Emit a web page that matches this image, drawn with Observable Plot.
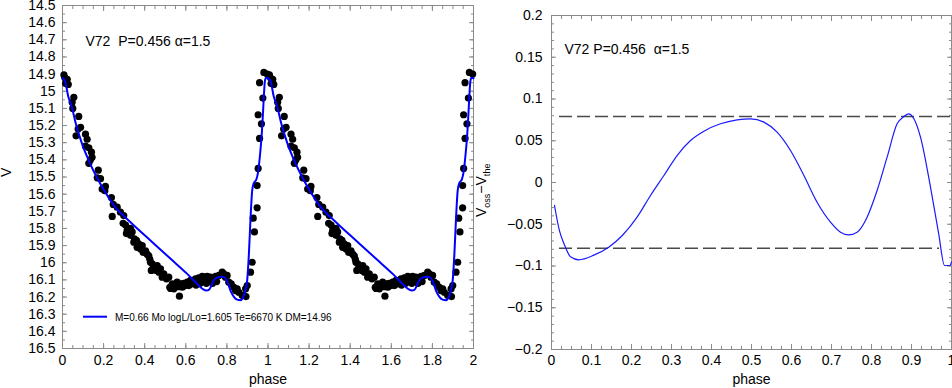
<!DOCTYPE html>
<html><head><meta charset="utf-8">
<script src="https://cdn.jsdelivr.net/npm/d3@7"></script>
<script src="https://cdn.jsdelivr.net/npm/@observablehq/plot@0.6"></script>
<style>
body{margin:0;background:#fff;}
#wrap{position:relative;width:952px;height:388px;overflow:hidden;}
#p1,#p2{position:absolute;top:0;}
#p1{left:0}
#p2{left:470px}
</style></head><body><div id="wrap"><div id="p1"></div><div id="p2"></div></div>
<script>
// ---- Observed V light curve (one cycle, phase 0..1) ----
const obsPhase = [0.007,0.011,0.015,0.023,0.028,0.047,0.050,0.055,0.066,0.076,0.079,0.088,0.112,0.112,0.120,0.128,0.128,0.136,0.141,0.144,
0.169,0.174,0.185,0.193,0.206,0.209,0.238,0.242,0.247,0.266,0.282,0.295,0.298,0.307,0.311,0.315,0.331,0.331,0.339,0.347,
0.350,0.360,0.363,0.371,0.380,0.388,0.393,0.404,0.412,0.420,0.425,0.428,0.432,0.437,0.444,0.457,0.461,0.469,0.477,0.485,
0.493,0.506,0.517,0.522,0.526,0.534,0.542,0.550,0.558,0.566,0.569,0.578,0.583,0.590,0.598,0.607,0.615,0.623,0.631,0.639,
0.647,0.650,0.655,0.663,0.670,0.672,0.680,0.688,0.690,0.696,0.700,0.704,0.712,0.720,0.728,0.730,0.740,0.745,0.750,0.761,
0.777,0.785,0.793,0.801,0.809,0.821,0.834,0.842,0.850,0.858,0.874,0.881,0.891,0.893,0.899,0.915,0.923,0.928,0.934,0.947,
0.947,0.952,0.952,0.959,0.959,0.968,0.975,0.980,0.996];
const obsV = [14.905,14.920,14.955,14.930,14.960,15.064,15.100,15.035,15.260,15.220,15.147,15.210,15.250,15.320,15.280,15.330,15.420,15.400,15.355,15.385,
15.505,15.460,15.510,15.570,15.580,15.555,15.620,15.730,15.660,15.676,15.705,15.770,15.725,15.780,15.830,15.810,15.800,15.840,15.820,15.880,
15.860,15.870,15.910,15.890,15.920,15.900,15.940,15.930,15.950,15.960,15.980,15.997,16.045,16.006,16.026,16.045,16.016,16.055,16.035,16.084,
16.065,16.094,16.084,16.143,16.150,16.123,16.152,16.133,16.113,16.140,16.195,16.123,16.143,16.120,16.133,16.113,16.133,16.103,16.123,16.103,
16.094,16.130,16.113,16.088,16.120,16.103,16.080,16.094,16.110,16.084,16.120,16.080,16.094,16.084,16.103,16.120,16.095,16.080,16.110,16.074,
16.055,16.065,16.084,16.074,16.113,16.123,16.143,16.162,16.152,16.172,16.190,16.190,16.152,16.197,16.133,16.055,15.997,15.740,15.820,15.680,
15.550,15.450,15.137,15.275,14.950,15.190,15.040,14.890,14.900];

// ---- Model light curve (one cycle) ----
const modelPhase = [0.000,0.012,0.028,0.045,0.065,0.096,0.130,0.166,0.218,0.250,0.331,0.428,0.526,0.607,0.640,0.663,0.685,0.700,0.712,0.722,
0.735,0.749,0.777,0.793,0.805,0.820,0.835,0.850,0.865,0.878,0.890,0.899,0.907,0.915,0.923,0.931,0.943,0.952,0.962,0.968,
0.975,0.980,0.985,0.990];
const modelV = [14.924,14.940,15.030,15.090,15.190,15.310,15.410,15.500,15.608,15.665,15.764,15.870,15.977,16.065,16.105,16.133,16.155,16.162,16.158,16.140,
16.105,16.088,16.082,16.090,16.120,16.170,16.200,16.215,16.218,16.205,16.160,16.100,15.950,15.740,15.580,15.535,15.515,15.470,15.360,15.277,
15.140,15.025,14.940,14.922];

// ---- Residuals V_oss - V_the ----
const residPhase = [0.0075,0.020,0.031,0.0475,0.068,0.106,0.143,0.177,0.214,0.2475,0.281,0.314,0.3475,0.381,0.4225,0.464,0.4975,0.531,0.564,0.5975,
0.631,0.664,0.6975,0.7225,0.743,0.764,0.789,0.814,0.839,0.864,0.881,0.893,0.906,0.9225,0.9475,0.968,0.9825,0.996,1.0];
const residDV = [-0.0275,-0.058,-0.073,-0.089,-0.0926,-0.087,-0.0775,-0.0635,-0.0415,-0.0156,0.0084,0.0323,0.0503,0.0615,0.0703,0.075,0.0763,0.0723,0.0603,0.0383,
0.0084,-0.0236,-0.0475,-0.0595,-0.0627,-0.0595,-0.0415,-0.0096,0.0303,0.0703,0.079,0.0823,0.0763,0.0543,-0.0056,-0.0615,-0.0994,-0.0994,-0.095];

// dashed limits
const dashLevel = [0.079, -0.0787];
const dashFrom = [0.02, 0.02];
const dashTo = [1.0, 0.97];

// tick labels
const leftXTicks = [0,0.2,0.4,0.6,0.8,1,1.2,1.4,1.6,1.8,2];
const leftYTicks = [14.5,14.6,14.7,14.8,14.9,15,15.1,15.2,15.3,15.4,15.5,15.6,15.7,15.8,15.9,16,16.1,16.2,16.3,16.4,16.5];
const rightXTicks = [0,0.1,0.2,0.3,0.4,0.5,0.6,0.7,0.8,0.9,1];
const rightYTicks = [-0.2,-0.15,-0.1,-0.05,0,0.05,0.1,0.15,0.2];

const leftTitle = "V72\u00a0\u00a0P=0.456 \u03b1=1.5";
const rightTitle = "V72 P=0.456\u00a0\u00a0\u03b1=1.5";
const legendText = "M=0.66 Mo logL/Lo=1.605 Te=6670 K DM=14.96";

// ---- build tables ----
const obs = [];
for (const c of [0, 1]) obsPhase.forEach((p, i) => obs.push({phase: p + c, V: obsV[i]}));
const model = [];
for (const c of [0, 1, 2]) modelPhase.forEach((p, i) => { if (p + c <= 2.0001) model.push({phase: p + c, V: modelV[i]}); });
const resid = residPhase.map((p, i) => ({phase: p, dv: residDV[i]}));
const dashes = dashLevel.map((v, i) => ({y: v, x1: dashFrom[i], x2: dashTo[i]}));

const font = '"Liberation Sans", Arial, Helvetica, sans-serif';
const axisColor = "#8a8a8a";
const fmt = d => String(+d.toFixed(3)).replace("-", "\u2212");
const rng = (a, b, s) => d3.range(0, Math.round((b - a) / s) + 1).map(k => +(a + k * s).toFixed(4));

function edgeTicks(minX, majX, minY, majY) {
  const m = [];
  for (const anchor of ["bottom", "top"]) {
    m.push(Plot.axisX({anchor, ticks: minX, tickSize: -3, fill: "none", stroke: axisColor, label: null}));
    m.push(Plot.axisX({anchor, ticks: majX, tickSize: -5, fill: "none", stroke: axisColor, label: null}));
  }
  for (const anchor of ["left", "right"]) {
    m.push(Plot.axisY({anchor, ticks: minY, tickSize: -3, fill: "none", stroke: axisColor, label: null}));
    m.push(Plot.axisY({anchor, ticks: majY, tickSize: -5, fill: "none", stroke: axisColor, label: null}));
  }
  return m;
}

const p1 = Plot.plot({
  width: 490, height: 388, marginLeft: 62, marginRight: 17, marginTop: 5, marginBottom: 40,
  style: {fontFamily: font, fontSize: "14px", background: "transparent", overflow: "visible"},
  x: {domain: [0, 2]},
  y: {domain: [14.5, 16.5], reverse: true},
  marks: [
    Plot.frame({stroke: axisColor}),
    ...edgeTicks(rng(0, 2, 0.05), leftXTicks, rng(14.5, 16.5, 0.05), leftYTicks),
    Plot.axisX({anchor: "bottom", ticks: leftXTicks, tickSize: 0, tickPadding: 7, tickFormat: fmt, label: null, fill: "black"}),
    Plot.axisY({anchor: "left", ticks: leftYTicks, tickSize: 0, tickPadding: 7, tickFormat: fmt, label: null, fill: "black"}),
    Plot.dot(obs, {x: "phase", y: "V", r: 3.6, fill: "black"}),
    Plot.line(model, {x: "phase", y: "V", stroke: "#0000ff", strokeWidth: 2, curve: "monotone-x"}),
    Plot.text([leftTitle], {frameAnchor: "top-left", dx: 23, dy: 40, textAnchor: "start", lineAnchor: "bottom", fill: "black"}),
    Plot.text(["phase"], {frameAnchor: "bottom", dy: 35, lineAnchor: "bottom", fill: "black"}),
    Plot.text(["V"], {frameAnchor: "left", dx: -52, rotate: -90, lineAnchor: "bottom", fill: "black"})
  ]
});
document.getElementById("p1").appendChild(p1);

// legend (left panel)
const lg = d3.select(p1).append("g").attr("text-anchor", "start");
lg.append("line").attr("x1", 83).attr("x2", 107).attr("y1", 316.7).attr("y2", 316.7)
  .attr("stroke", "#0000ff").attr("stroke-width", 2);
lg.append("text").attr("x", 115).attr("y", 320.5).attr("font-size", 10).attr("text-anchor", "start")
  .attr("fill", "black").text(legendText);

const p2 = Plot.plot({
  width: 482, height: 388, marginLeft: 81, marginRight: 1, marginTop: 15, marginBottom: 39,
  style: {fontFamily: font, fontSize: "14px", background: "transparent", overflow: "visible"},
  x: {domain: [0, 1]},
  y: {domain: [-0.2, 0.2]},
  marks: [
    Plot.frame({stroke: axisColor}),
    ...edgeTicks(rng(0, 1, 0.025), rightXTicks, rng(-0.2, 0.2, 0.01), rightYTicks),
    Plot.axisX({anchor: "bottom", ticks: rightXTicks, tickSize: 0, tickPadding: 6, tickFormat: fmt, label: null, fill: "black"}),
    Plot.axisY({anchor: "left", ticks: rightYTicks, tickSize: 0, tickPadding: 9, tickFormat: fmt, label: null, fill: "black"}),
    Plot.ruleY(dashes, {y: "y", x1: "x1", x2: "x2", stroke: "#4a4a4a", strokeWidth: 1.4, strokeDasharray: "13,5"}),
    Plot.line(resid, {x: "phase", y: "dv", stroke: "#1a1aff", strokeWidth: 1.2, curve: "monotone-x"}),
    Plot.text([rightTitle], {frameAnchor: "top-left", dx: 13, dy: 38, textAnchor: "start", lineAnchor: "bottom", fill: "black"}),
    Plot.text(["phase"], {frameAnchor: "bottom", dy: 34, lineAnchor: "bottom", fill: "black"})
  ]
});
document.getElementById("p2").appendChild(p2);

// y label for right panel: V_oss − V_the
const yl = d3.select(p2).append("text")
  .attr("transform", "translate(16,217) rotate(-90)")
  .attr("font-size", 14).attr("fill", "black").attr("text-anchor", "start");
yl.append("tspan").text("V");
yl.append("tspan").attr("font-size", 9).attr("dy", 4).text("oss");
yl.append("tspan").attr("dy", -4).text("\u2212V");
yl.append("tspan").attr("font-size", 9).attr("dy", 4).text("the");
</script></body></html>
